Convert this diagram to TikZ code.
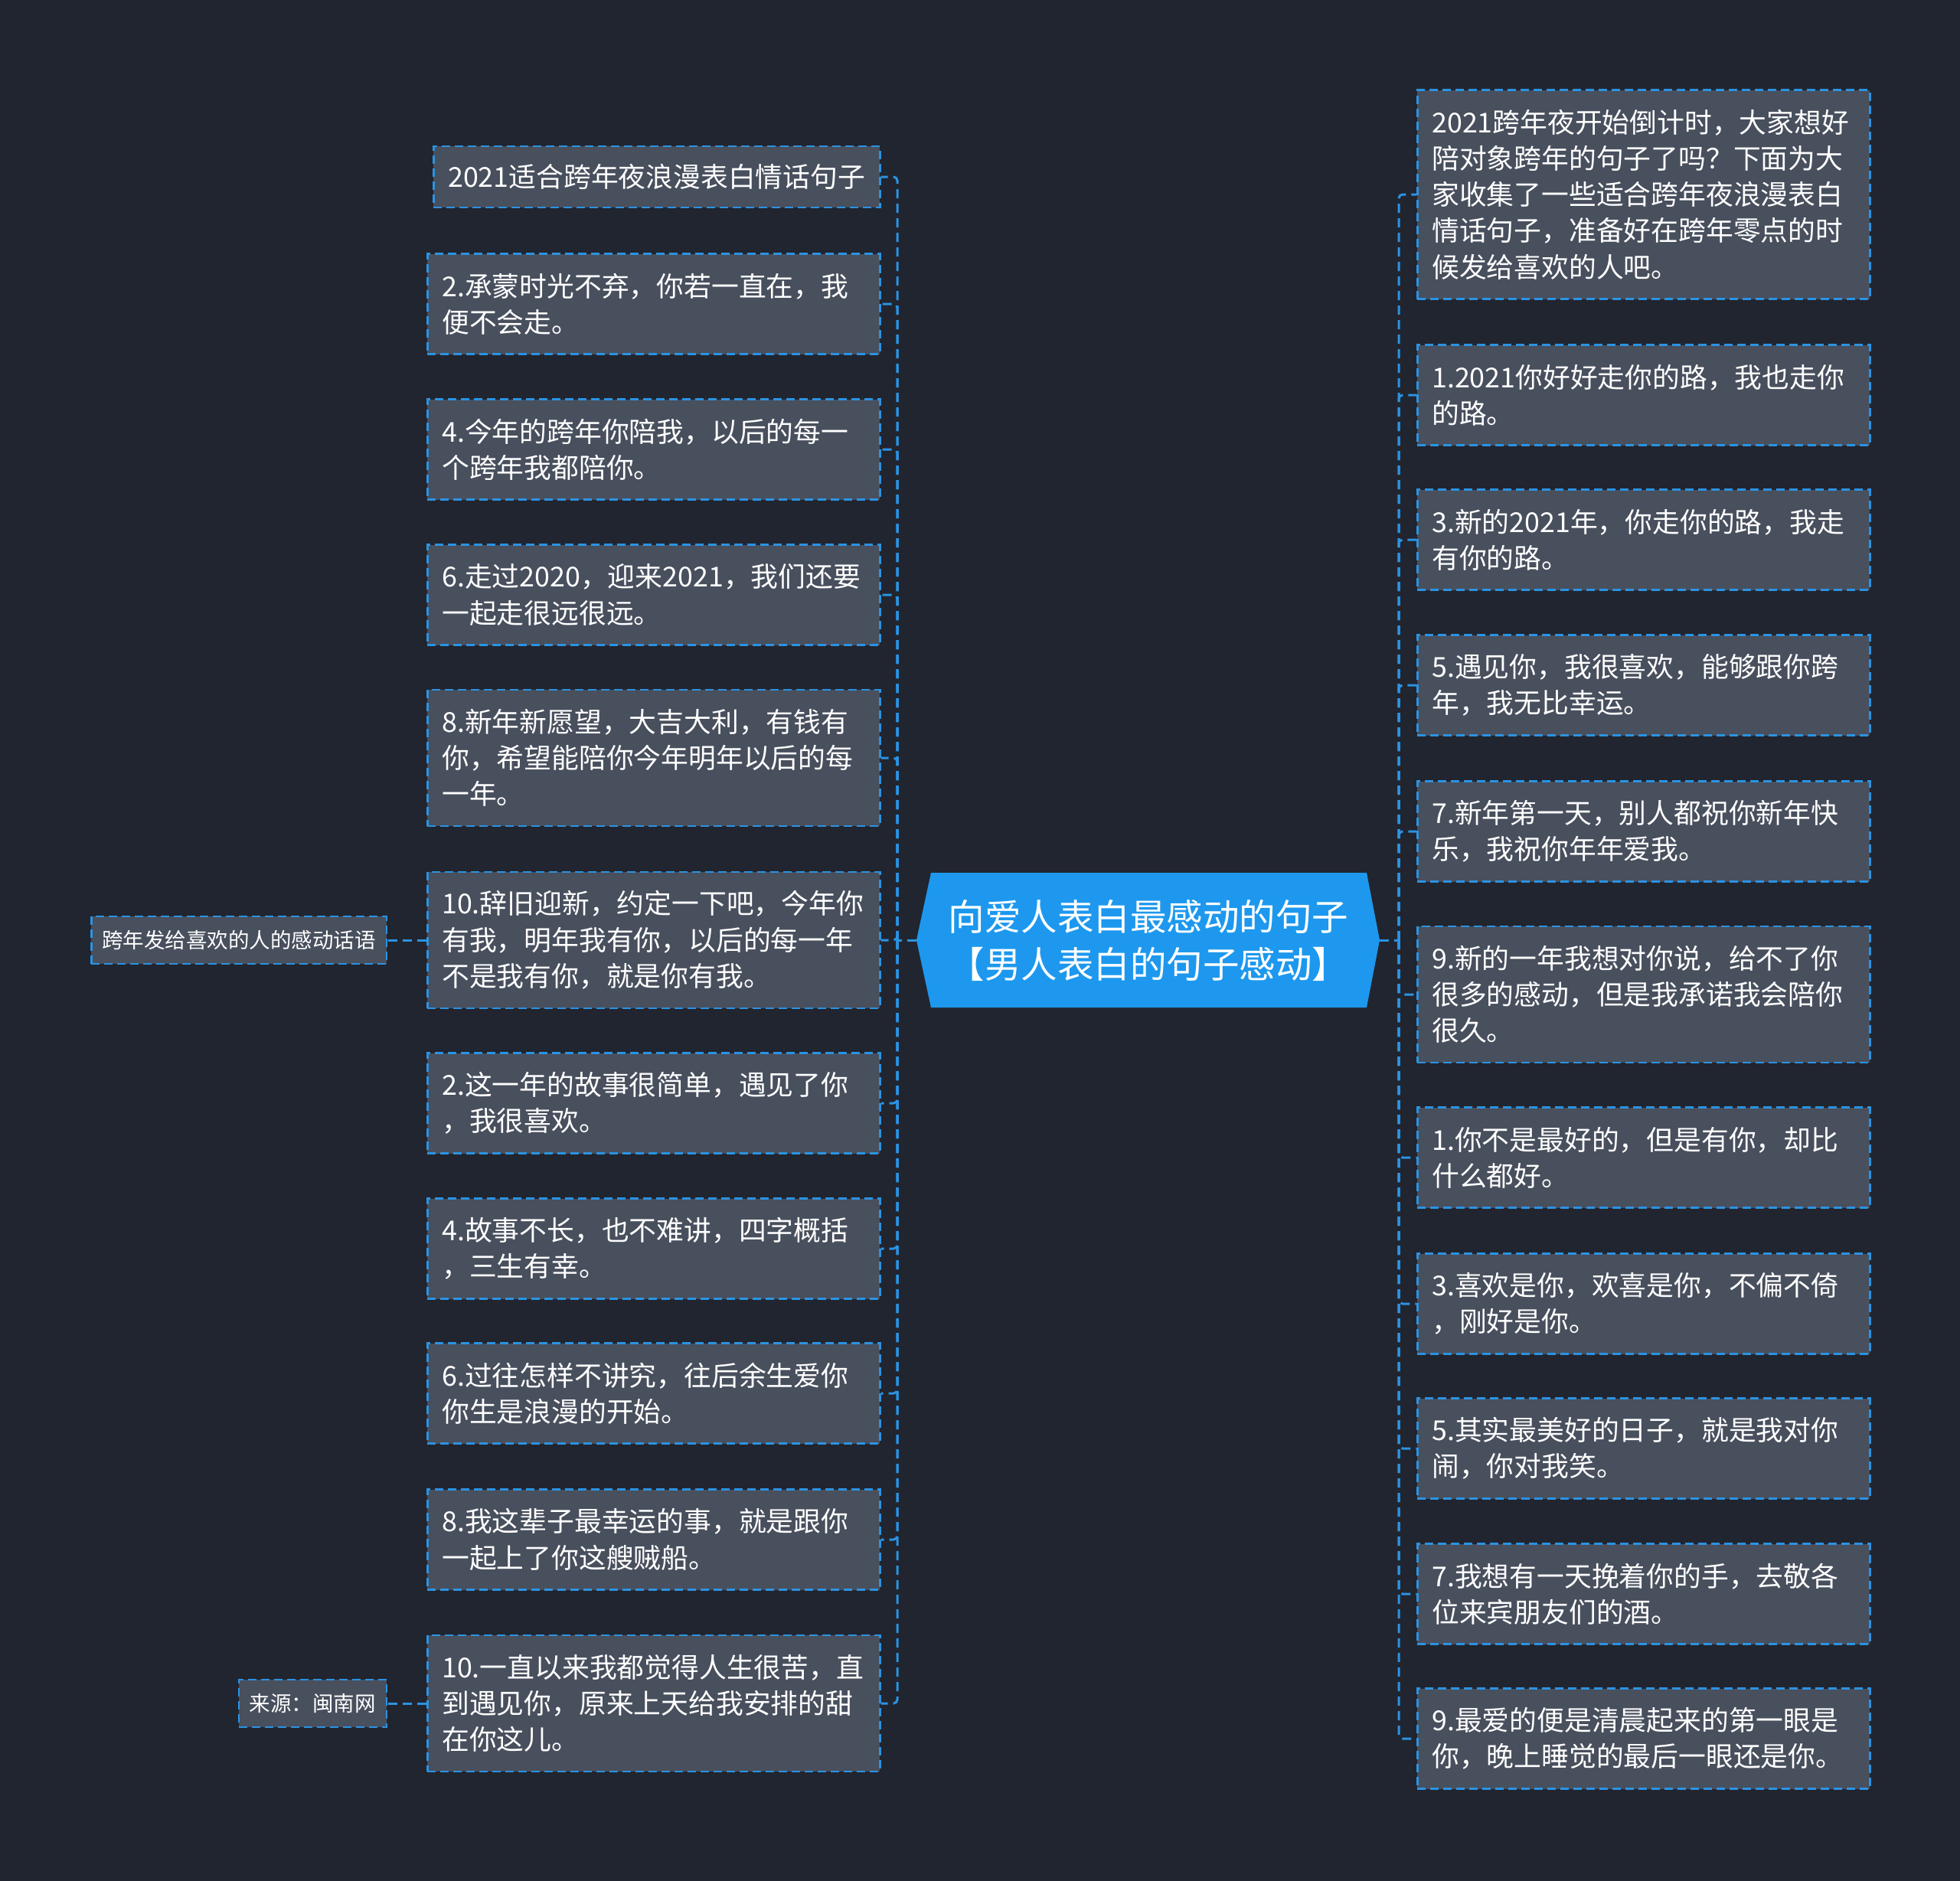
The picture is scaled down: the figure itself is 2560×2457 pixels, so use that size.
\documentclass[tikz,border=0pt]{standalone}
\usepackage{fontspec}
\setmainfont{Noto Sans CJK SC}
\definecolor{bg}{HTML}{21252F}
\definecolor{boxfill}{HTML}{484F5D}
\definecolor{linec}{HTML}{2B93E3}
\definecolor{cfill}{HTML}{1D98EE}
\tikzset{
  leaf/.style={draw=linec, line width=2.5pt, dash pattern=on 11pt off 6pt, fill=boxfill, text=white,
    inner xsep=19pt, inner ysep=0pt, text width=553pt, align=left, anchor=west,
    font=\fontsize{35.8}{47.3}\selectfont},
  subleaf/.style={draw=linec, line width=2.5pt, dash pattern=on 11pt off 6pt, fill=boxfill, text=white,
    inner xsep=14pt, inner ysep=0pt, minimum height=62pt, anchor=east,
    font=\fontsize{27.5}{34}\selectfont},
  conn/.style={draw=linec, line width=3pt, dash pattern=on 12pt off 7pt, rounded corners=5pt},
  centertext/.style={text=white, align=center, inner sep=0pt, font=\fontsize{47.5}{62}\selectfont}
}
\begin{document}
\begin{tikzpicture}[x=1pt,y=-1pt]
\useasboundingbox (0,0) rectangle (2560,2457);
\fill[bg] (0,0) rectangle (2560,2457);

% central node
\coordinate (cw) at (1197,1228);
\coordinate (ce) at (1802,1228);
\fill[cfill] (1216,1140) -- (1785,1140) -- (ce) -- (1785,1316) -- (1216,1316) -- (cw) -- cycle;
\node[centertext] (c) at (1500,1228) {向爱人表白最感动的句子\\【男人表白的句子感动】};

\coordinate (lt) at (1172,1228);
\coordinate (rt) at (1827,1228);

% left leaves
\node[leaf, text width=545pt, minimum height=80pt] (l1) at (565,231) {2021适合跨年夜浪漫表白情话句子};
\node[leaf, minimum height=131pt] (l2) at (557,397) {2.承蒙时光不弃，你若一直在，我\\便不会走。};
\node[leaf, minimum height=131pt] (l3) at (557,587) {4.今年的跨年你陪我，以后的每一\\个跨年我都陪你。};
\node[leaf, minimum height=131pt] (l4) at (557,777) {6.走过2020，迎来2021，我们还要\\一起走很远很远。};
\node[leaf, minimum height=178pt] (l5) at (557,990) {8.新年新愿望，大吉大利，有钱有\\你，希望能陪你今年明年以后的每\\一年。};
\node[leaf, minimum height=178pt] (l6) at (557,1228) {10.辞旧迎新，约定一下吧，今年你\\有我，明年我有你，以后的每一年\\不是我有你，就是你有我。};
\node[leaf, minimum height=131pt] (l7) at (557,1441) {2.这一年的故事很简单，遇见了你\\，我很喜欢。};
\node[leaf, minimum height=131pt] (l8) at (557,1631) {4.故事不长，也不难讲，四字概括\\，三生有幸。};
\node[leaf, minimum height=131pt] (l9) at (557,1820) {6.过往怎样不讲究，往后余生爱你\\你生是浪漫的开始。};
\node[leaf, minimum height=131pt] (l10) at (557,2011) {8.我这辈子最幸运的事，就是跟你\\一起上了你这艘贼船。};
\node[leaf, minimum height=178pt] (l11) at (557,2225) {10.一直以来我都觉得人生很苦，直\\到遇见你，原来上天给我安排的甜\\在你这儿。};

% sub leaves
\node[subleaf] (s1) at (506,1228) {跨年发给喜欢的人的感动话语};
\node[subleaf] (s2) at (506,2225) {来源：闽南网};

% right leaves
\node[leaf, minimum height=273pt] (r1) at (1850,254) {2021跨年夜开始倒计时，大家想好\\陪对象跨年的句子了吗？下面为大\\家收集了一些适合跨年夜浪漫表白\\情话句子，准备好在跨年零点的时\\候发给喜欢的人吧。};
\node[leaf, minimum height=131pt] (r2) at (1850,516) {1.2021你好好走你的路，我也走你\\的路。};
\node[leaf, minimum height=131pt] (r3) at (1850,705) {3.新的2021年，你走你的路，我走\\有你的路。};
\node[leaf, minimum height=131pt] (r4) at (1850,895) {5.遇见你，我很喜欢，能够跟你跨\\年，我无比幸运。};
\node[leaf, minimum height=131pt] (r5) at (1850,1086) {7.新年第一天，别人都祝你新年快\\乐，我祝你年年爱我。};
\node[leaf, minimum height=178pt] (r6) at (1850,1299) {9.新的一年我想对你说，给不了你\\很多的感动，但是我承诺我会陪你\\很久。};
\node[leaf, minimum height=131pt] (r7) at (1850,1512) {1.你不是最好的，但是有你，却比\\什么都好。};
\node[leaf, minimum height=131pt] (r8) at (1850,1703) {3.喜欢是你，欢喜是你，不偏不倚\\，刚好是你。};
\node[leaf, minimum height=131pt] (r9) at (1850,1892) {5.其实最美好的日子，就是我对你\\闹，你对我笑。};
\node[leaf, minimum height=131pt] (r10) at (1850,2082) {7.我想有一天挽着你的手，去敬各\\位来宾朋友们的酒。};
\node[leaf, minimum height=131pt] (r11) at (1850,2271) {9.最爱的便是清晨起来的第一眼是\\你，晚上睡觉的最后一眼还是你。};

% connectors
\draw[conn] (cw) -- (lt);
\draw[conn] (ce) -- (rt);
\foreach \n in {l1,l2,l3,l4,l5,l6,l7,l8,l9,l10,l11} {
  \draw[conn] (lt) |- (\n.east);
}
\foreach \n in {r1,r2,r3,r4,r5,r6,r7,r8,r9,r10,r11} {
  \draw[conn] (rt) |- (\n.west);
}
\draw[conn] (l6.west) -- (s1.east);
\draw[conn] (l11.west) -- (s2.east);
\end{tikzpicture}
\end{document}
